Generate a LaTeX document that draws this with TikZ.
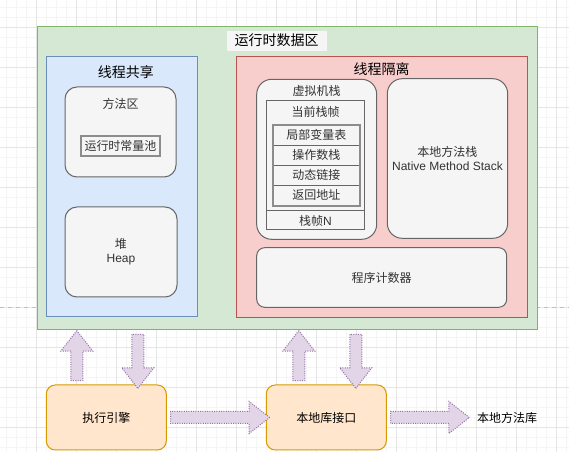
\documentclass[tikz,border=0pt]{standalone}
\usepackage{fontspec}
\setmainfont{Noto Sans CJK SC}
\newfontfamily\latin{Liberation Sans}
\usetikzlibrary{calc,shapes.arrows}

\definecolor{greenfill}{HTML}{D5E8D4}
\definecolor{greenline}{HTML}{82B366}
\definecolor{bluefill}{HTML}{DAE8FC}
\definecolor{blueline}{HTML}{6C8EBF}
\definecolor{redfill}{HTML}{F8CECC}
\definecolor{redline}{HTML}{B85450}
\definecolor{grayfill}{HTML}{F5F5F5}
\definecolor{grayline}{HTML}{666666}
\definecolor{graytext}{HTML}{333333}
\definecolor{orangefill}{HTML}{FFE6CC}
\definecolor{orangeline}{HTML}{D79B00}
\definecolor{purplefill}{HTML}{E1D5E7}
\definecolor{purpleline}{HTML}{9673A6}
\definecolor{gridminor}{HTML}{F5F5F5}
\definecolor{gridmajor}{HTML}{E6E6E6}
\definecolor{rowline}{HTML}{8C8C8C}

% one pixel of the drawing
\newdimen\pxu \pxu=0.75pt

\tikzset{
  every node/.style={font=\fontsize{9}{10.8}\selectfont},
  region/.style={draw=#1line, fill=#1fill, line width=\pxu, inner sep=0pt},
  title/.style={font=\fontsize{10.5}{12.6}\selectfont, inner sep=0pt},
  graybox/.style={draw=grayline, fill=grayfill, text=graytext, line width=\pxu, inner sep=0pt, align=center},
  rowbox/.style={draw=grayline, fill=grayfill, text=graytext, line width=\pxu, inner sep=0pt},
  enginebox/.style={draw=orangeline, fill=orangefill, line width=\pxu, rounded corners=9\pxu, inner sep=0pt},
  flex/.style={single arrow, draw=purpleline, fill=purplefill, densely dotted, line width=\pxu,
    inner xsep=0pt, inner ysep=5.5\pxu, minimum width=0pt, outer sep=0pt,
    single arrow head extend=10\pxu, single arrow tip angle=76}
}

% block arrow from #1 to #2
\newcommand\flexarrow[2]{%
  \path let \p1=#1, \p2=#2, \n1={veclen(\x2-\x1,\y2-\y1)}, \n2={atan2(\y2-\y1,\x2-\x1)} in
    node[flex, minimum height=\n1, rotate=\n2] at ($(\p1)!0.5!(\p2)$) {};}

\begin{document}
\begin{tikzpicture}[x=0.75pt, y=-0.75pt]
    \useasboundingbox (0,0) rectangle (569,452);
    \fill[white] (0,0) rectangle (569,452);

    % Grid
    \foreach \x in {6.7,16.7,...,566.7}
        \draw[gridminor, line width=\pxu] (\x,0) -- (\x,452);
    \foreach \y in {7.3,17.3,...,447.3}
        \draw[gridminor, line width=\pxu] (0,\y) -- (569,\y);
    \foreach \x in {36.7,76.7,...,556.7}
        \draw[gridmajor, line width=\pxu] (\x,0) -- (\x,452);
    \foreach \y in {27.3,67.3,...,427.3}
        \draw[gridmajor, line width=\pxu] (0,\y) -- (569,\y);
    \draw[gray!50, dashed, line width=\pxu] (0,307.5) -- (569,307.5);

    % Runtime data area
    \node[region=green, minimum width=500\pxu, minimum height=303\pxu] (rda) at (287,178.5) {};
    \node[title, fill=grayfill, minimum width=100\pxu, minimum height=20\pxu] (rdatitle) at (276.7,40.7) {运行时数据区};

    % Shared by threads
    \node[region=blue, minimum width=151\pxu, minimum height=260\pxu] (shared) at (121.5,187) {};
    \node[title] (sharedtitle) at (126,72) {线程共享};
    \node[graybox, rounded corners=12\pxu, minimum width=111\pxu, minimum height=90\pxu] (method) at (120.5,132) {};
    \node[text=graytext, inner sep=0pt] (methodtitle) at (120.5,104) {方法区};
    \node[rowbox, draw=rowline, line width=2\pxu, minimum width=79\pxu, minimum height=20\pxu] (pool) at (120.5,146) {运行时常量池};
    \node[graybox, rounded corners=12\pxu, minimum width=112\pxu, minimum height=90\pxu] (heap) at (121,252) {堆\\{\latin Heap}};

    % Private to threads
    \node[region=red, minimum width=291\pxu, minimum height=261\pxu] (private) at (381.5,187.5) {};
    \node[title] (privatetitle) at (381.7,69.5) {线程隔离};
    \node[graybox, rounded corners=15\pxu, minimum width=120\pxu, minimum height=160\pxu] (vms) at (316.7,159.3) {};
    \node[text=graytext, inner sep=0pt] (vmstitle) at (316.7,90.7) {虚拟机栈};
    \node[rowbox, minimum width=97.6\pxu, minimum height=129.3\pxu] (frame) at (315.5,165.35) {};
    \node[text=graytext, inner sep=0pt] (frametitle) at (315.5,112) {当前栈帧};
    \foreach \name/\txt [count=\i] in {local/局部变量表, operand/操作数栈, dynlink/动态链接, retaddr/返回地址}
        \node[rowbox, minimum width=85.3\pxu, minimum height=20\pxu] (\name) at (316.35,115.3+20*\i) {\txt};
    \draw[rowline, line width=2\pxu] (local.north west) rectangle (retaddr.south east);
    \node[text=graytext, inner sep=0pt, minimum width=97.6\pxu, minimum height=19.3\pxu, anchor=south] (framen) at (frame.south) {栈帧{\latin N}};
    \draw[grayline, line width=\pxu] (framen.north west) -- (framen.north east);
    \node[graybox, rounded corners=15\pxu, minimum width=120.4\pxu, minimum height=159.6\pxu] (nms) at (447.5,158.5) {本地方法栈\\{\latin Native Method Stack}};
    \node[graybox, rounded corners=8\pxu, minimum width=250\pxu, minimum height=59.6\pxu] (pc) at (381.7,277.5) {程序计数器};

    % Engine and native interface
    \node[enginebox, minimum width=120\pxu, minimum height=65\pxu] (engine) at (106.3,417.5) {执行引擎};
    \node[enginebox, minimum width=120\pxu, minimum height=65\pxu] (nli) at (326.3,417.5) {本地库接口};
    \node[inner sep=0pt] (lib) at (507,417.5) {本地方法库};
    \coordinate (libtip) at (465.5,417.5);

    % Block arrows
    \coordinate (up1) at ($(engine.north west)+(31,0)$);
    \coordinate (down1) at ($(engine.north west)+(92,0)$);
    \coordinate (up2) at ($(nli.north west)+(33,0)$);
    \coordinate (down2) at ($(nli.north west)+(90,0)$);
    \flexarrow{(up1)}{($(up1 |- rda.south)+(0,4)$)}
    \flexarrow{(down1 |- rda.south)}{(down1)}
    \flexarrow{(up2)}{($(up2 |- rda.south)+(0,4)$)}
    \flexarrow{(down2 |- rda.south)}{(down2)}
    \flexarrow{(engine.east)}{(nli.west)}
    \flexarrow{(nli.east)}{(libtip)}
\end{tikzpicture}
\end{document}
